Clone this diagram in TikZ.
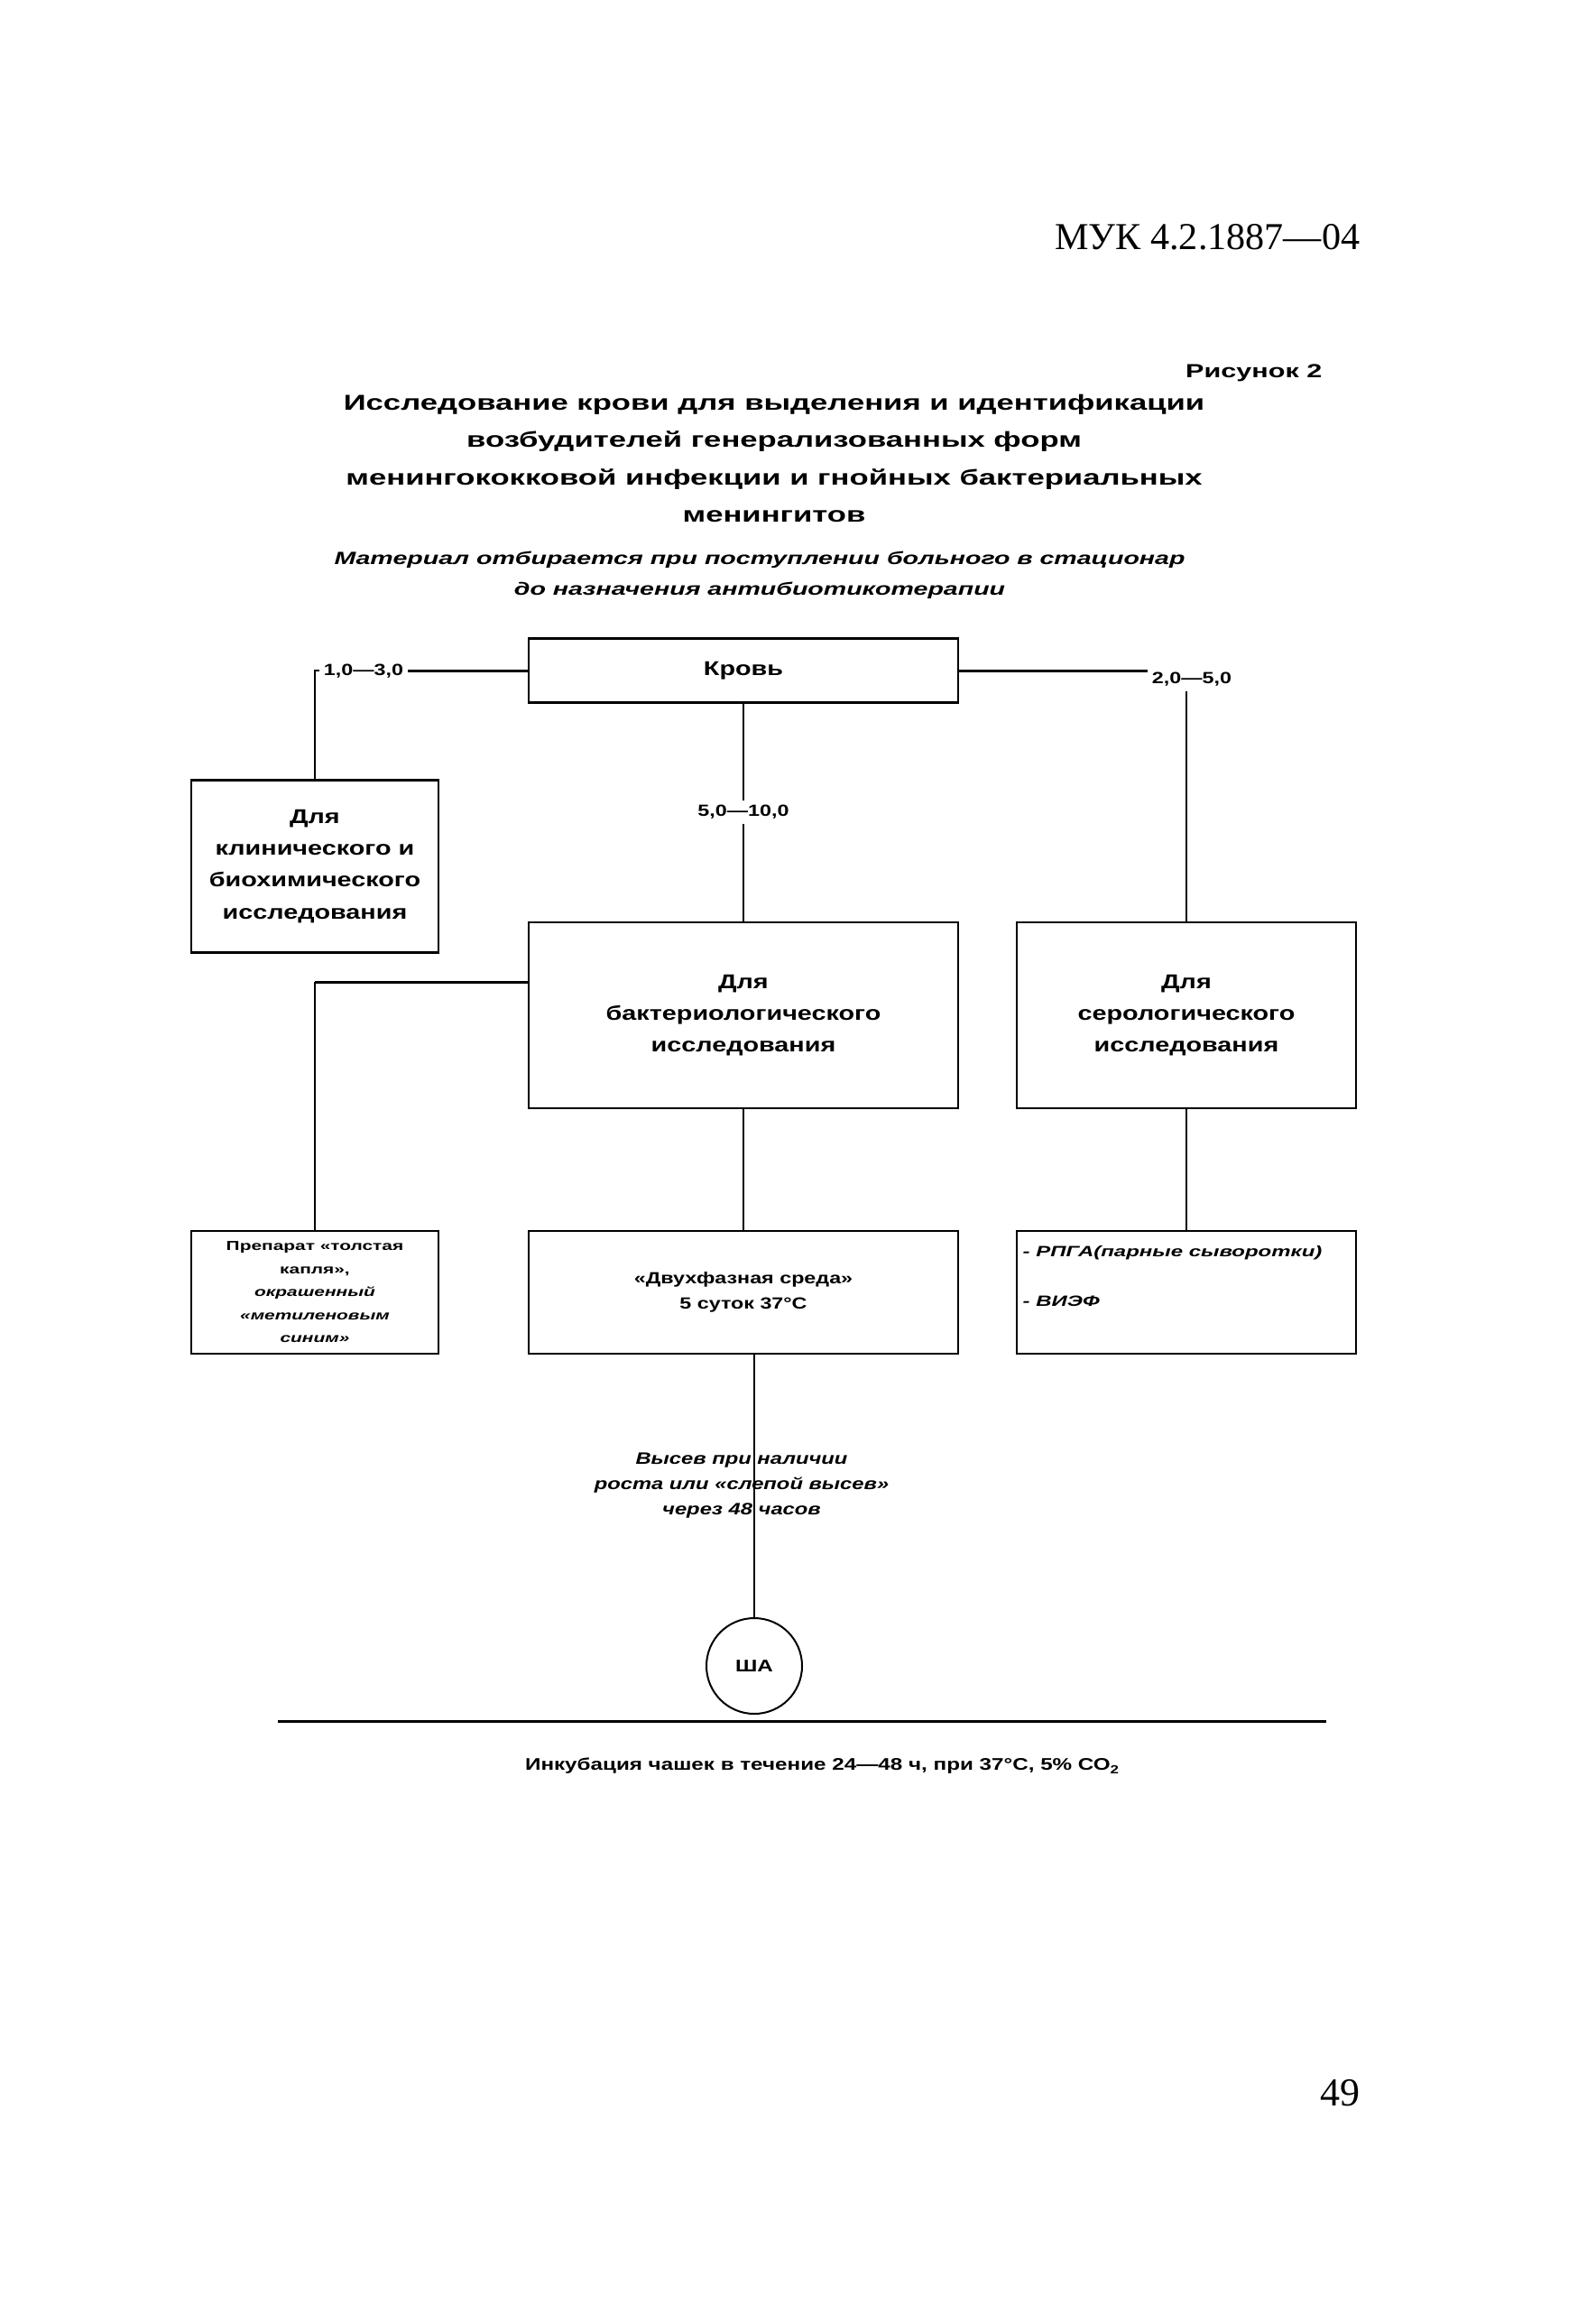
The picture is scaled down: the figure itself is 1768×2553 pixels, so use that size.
\documentclass[tikz,border=0pt]{standalone}
\usepackage{fontspec}
\setmainfont{Liberation Serif}
\newfontfamily\grot[FakeStretch=1.3]{Liberation Sans}
\newfontfamily\grotw[FakeStretch=1.45]{Liberation Sans}

\begin{document}
\begin{tikzpicture}[x=0.1mm,y=-0.1mm]
\tikzstyle{blok}=[draw,line width=0.25mm,inner sep=0pt,align=center,font=\grot\bfseries\fontsize{6.3}{10}\selectfont]
\tikzstyle{kol}=[inner sep=1.2pt,fill=white,font=\grot\bfseries\fontsize{5.1}{6}\selectfont]
\tikzstyle{tekst}=[inner sep=0pt,align=center]
\tikzstyle{svyaz}=[line width=0.15mm]
\tikzstyle{tolst}=[line width=0.3mm]

\useasboundingbox (0,0) rectangle (1768,2553);

% shapka
\node[tekst,anchor=base east,font=\fontsize{12}{14}\selectfont] (muk) at (1508,277) {МУК 4.2.1887—04};
\node[tekst,anchor=base east,font=\grotw\bfseries\fontsize{6}{7}\selectfont] (ris) at (1466,419) {Рисунок 2};
\node[tekst,font=\grotw\bfseries\fontsize{6.8}{11.7}\selectfont] (zag) at (858,508) {Исследование крови для выделения и идентификации\\возбудителей генерализованных форм\\менингококковой инфекции и гнойных бактериальных\\менингитов};
\node[tekst,font=\grotw\bfseries\itshape\fontsize{5.6}{9.7}\selectfont] (mat) at (842,637) {Материал отбирается при поступлении больного в стационар\\до назначения антибиотикотерапии};

% bloki
\node[blok,minimum width=47.6mm,minimum height=7.1mm] (krov) at (824,743) {Кровь};
\node[blok,minimum width=27.4mm,minimum height=19.1mm] (klin) at (349,960) {Для\\клинического и\\биохимического\\исследования};
\node[blok,minimum width=47.6mm,minimum height=20.6mm] (bact) at (824,1125) {Для\\бактериологического\\исследования};
\node[blok,minimum width=37.6mm,minimum height=20.6mm] (sero) at (1315,1125) {Для\\серологического\\исследования};
\node[blok,minimum width=27.4mm,minimum height=13.6mm,font=\grotw\bfseries\fontsize{4.1}{7.25}\selectfont] (drop) at (349,1432) {Препарат «толстая\\капля»,\\\textit{окрашенный}\\\textit{«метиленовым}\\\textit{синим»}};
\node[blok,minimum width=47.6mm,minimum height=13.6mm,font=\grot\bfseries\fontsize{5.1}{8}\selectfont] (sred) at (824,1432) {«Двухфазная среда»\\5 суток 37°С};
\node[blok,minimum width=37.6mm,minimum height=13.6mm] (rpga) at (1315,1432) {};
\node[tekst,anchor=base west,font=\grotw\bfseries\itshape\fontsize{4.7}{6}\selectfont] (rpga1) at (1133,1392) {- РПГА(парные сыворотки)};
\node[tekst,anchor=base west,font=\grotw\bfseries\itshape\fontsize{4.7}{6}\selectfont] (rpga2) at (1133,1447) {- ВИЭФ};
\node[circle,draw,line width=0.2mm,minimum size=10.6mm,inner sep=0pt,font=\grot\bfseries\fontsize{5.3}{6}\selectfont] (sha) at (836,1846) {ША};

% podpisi
\node[kol] (l13) at (403,744) {1,0—3,0};
\node[kol] (l510) at (824,900) {5,0—10,0};
\node[kol] (l25) at (1321,753) {2,0—5,0};
\node[tekst,font=\grot\bfseries\itshape\fontsize{5.2}{8}\selectfont] (vysev) at (822,1646) {Высев при наличии\\роста или «слепой высев»\\через 48 часов};

% svyazi
\coordinate (uzel) at ([yshift=3.7mm]bact.west);
\draw[tolst] (krov.west) -- (krov.west -| l13.east);
\draw[svyaz] (krov.west -| l13.west) -| (klin.north);
\draw[tolst] (krov.east) -- (krov.east -| l25.west);
\draw[svyaz] (l25.south -| sero.north) -- (sero.north);
\draw[svyaz] (krov.south) -- (l510.north);
\draw[svyaz] (l510.south) -- (bact.north);
\draw[tolst] (uzel) -- (uzel -| drop.north);
\draw[svyaz] (uzel -| drop.north) -- (drop.north);
\draw[svyaz] (bact.south) -- (sred.north);
\draw[svyaz] (sero.south) -- (rpga.north);
\draw[svyaz] (sha.north |- sred.south) -- (sha.north);

% niz
\draw[tolst] (308,1907) -- (1470,1907);
\node[tekst,font=\grot\bfseries\fontsize{5.3}{6}\selectfont] (inkub) at (912,1957) {Инкубация чашек в течение 24—48 ч, при 37°С, 5\% СО\textsubscript{2}};
\node[tekst,anchor=base west,font=\fontsize{12.5}{14}\selectfont] (str) at (1463,2333) {49};
\end{tikzpicture}
\end{document}
